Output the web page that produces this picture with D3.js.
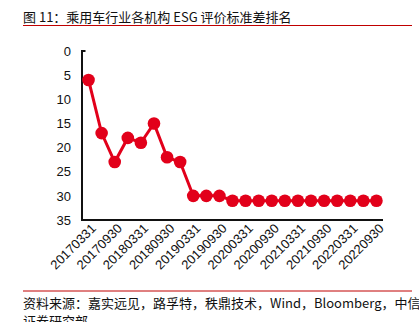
<!DOCTYPE html>
<html><head><meta charset="utf-8">
<script src="https://cdn.jsdelivr.net/npm/d3@7"></script>
<style>
body{margin:0;background:#fff;}
text{font-family:"Liberation Sans","Noto Sans CJK SC",sans-serif;}
</style></head><body>
<svg id="c" width="419" height="322"></svg>
<script>
const categories = ["20170331","20170630","20170930","20171231","20180331","20180630","20180930","20181231","20190331","20190630","20190930","20191231","20200331","20200630","20200930","20201231","20210331","20210630","20210930","20211231","20220331","20220630","20220930"];
const values = [6,17,23,18,19,15,22,23,30,30,30,31,31,31,31,31,31,31,31,31,31,31,31];
const yTicks = [0,5,10,15,20,25,30,35];
const title = "图 11：乘用车行业各机构 ESG 评价标准差排名";
const source1 = "资料来源：嘉实远见，路孚特，秩鼎技术，Wind，Bloomberg，中信";
const source2 = "证券研究部";

const svg = d3.select("#c");
const red = "#e2001a";
const cjk = '"Noto Sans CJK SC","Liberation Sans",sans-serif';

svg.append("text").attr("x",23).attr("y",22).attr("font-size",13).style("font-family",cjk).attr("fill","#111").text(title);
svg.append("line").attr("x1",23).attr("x2",412).attr("y1",25.5).attr("y2",25.5).attr("stroke","#c00000").attr("stroke-width",1);

const x = d3.scaleBand().domain(categories).range([82,383]);
const y = d3.scaleLinear().domain([0,35]).range([51,220]);

// y axis labels
svg.append("g").selectAll("text").data(yTicks).join("text")
  .attr("x",71).attr("y",d=>y(d)).attr("dy","0.36em").attr("text-anchor","end")
  .attr("font-size",13).attr("fill","#111").text(d=>d);

// axes lines
svg.append("path").attr("d",`M85.5,${y(0)}H82V${y(35)}H383`).attr("fill","none").attr("stroke","#111").attr("stroke-width",2);

// x labels
const shown = categories.filter((d,i)=>i%2===0);
svg.append("g").selectAll("text").data(shown).join("text")
  .attr("transform",d=>`translate(${x(d)+x.bandwidth()/2+5},${226}) rotate(-45)`)
  .attr("text-anchor","end").attr("dy","0.35em").attr("font-size",13).attr("fill","#111").text(d=>d);

// line
const line = d3.line().x((d,i)=>x(categories[i])+x.bandwidth()/2).y(d=>y(d));
svg.append("path").datum(values).attr("d",line).attr("fill","none").attr("stroke",red).attr("stroke-width",3);
svg.append("g").selectAll("circle").data(values).join("circle")
  .attr("cx",(d,i)=>x(categories[i])+x.bandwidth()/2).attr("cy",d=>y(d)).attr("r",6.3).attr("fill",red);

// source
svg.append("line").attr("x1",23).attr("x2",412).attr("y1",291).attr("y2",291).attr("stroke","#c00000").attr("stroke-width",1);
svg.append("text").attr("x",23).attr("y",308).attr("font-size",13).style("font-family",cjk).attr("fill","#111").text(source1);
svg.append("text").attr("x",23).attr("y",326).attr("font-size",13).style("font-family",cjk).attr("fill","#111").text(source2);
</script></body></html>
